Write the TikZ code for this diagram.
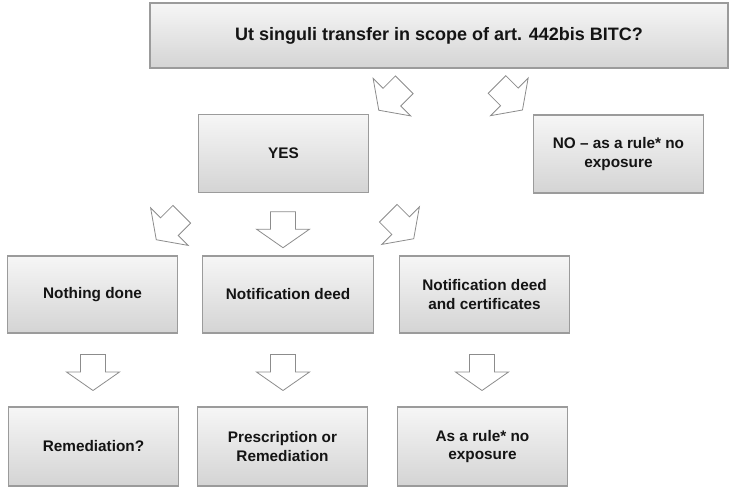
\documentclass[tikz,border=0pt]{standalone}
\usepackage{fontspec}
\setmainfont{Liberation Sans}
\definecolor{cLine}{RGB}{155,155,155}
\definecolor{cTop}{RGB}{246,246,246}
\definecolor{cBottom}{RGB}{212,212,212}
\definecolor{cArrow}{RGB}{140,140,140}
\definecolor{cText}{RGB}{20,20,20}

\begin{document}
\begin{tikzpicture}[x=0.75pt,y=-0.75pt,font=\bfseries\fontsize{11.5}{14}\selectfont,
  box/.style={draw=cLine,line width=0.8pt,top color=cTop,bottom color=cBottom,
    text=cText,align=center,inner sep=2pt,minimum width=128pt,minimum height=58.5pt},
  blockarrow/.pic={\draw[cArrow,line width=0.6pt,fill=white,line join=miter]
    (-12.5,-18) -- (12.5,-18) -- (12.5,-0.5) -- (26.5,-0.5) -- (0,18)
    -- (-26.5,-0.5) -- (-12.5,-0.5) -- cycle;}]
\useasboundingbox (0,0) rectangle (732,487);
% question
\node[box,minimum width=433.5pt,minimum height=48.75pt,font=\bfseries\fontsize{13.5}{15}\selectfont]
  (scope) at (439,35.5) {Ut singuli transfer in scope of art. 442bis BITC?};
\node[box] (yes) at (283.5,153.5) {YES};
\node[box] (no) at (618.5,154) {NO -- as a rule* no\\exposure};
% what was done
\node[box,minimum height=57.75pt] (nothing) at (92.5,294.5) {Nothing done};
\node[box,minimum height=57.75pt] (deed) at (288,294.5) {Notification deed};
\node[box,minimum height=57.75pt] (certs) at (484.5,294.5) {Notification deed\\and certificates};
% outcome
\node[box,minimum height=59.25pt] (remed) at (93.5,446.5) {Remediation?};
\node[box,minimum height=59.25pt] (prescr) at (282.5,446.5) {Prescription or\\Remediation};
\node[box,minimum height=59.25pt] (safe) at (482.5,446.5) {As a rule* no\\exposure};
% block arrows
\pic[rotate=-45] at (391.5,97.5) {blockarrow};
\pic[rotate=45] at (509.75,97.25) {blockarrow};
\pic[rotate=-45] at (169,227) {blockarrow};
\pic at (283,229.7) {blockarrow};
\pic[rotate=45] at (401,226) {blockarrow};
\foreach \x in {93,283,482}
  \pic at (\x,372.5) {blockarrow};
\end{tikzpicture}
\end{document}
